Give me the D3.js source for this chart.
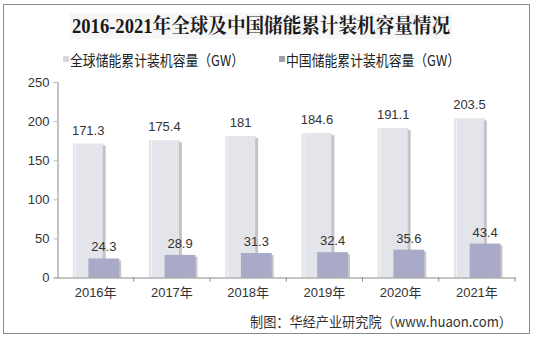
<!DOCTYPE html>
<html><head><meta charset="utf-8">
<script src="https://cdn.jsdelivr.net/npm/d3@7"></script>
<style>html,body{margin:0;padding:0;background:#fff;}svg{display:block;}</style>
</head><body>
<svg id="c" width="534" height="338"></svg>
<script>
const years = ["2016年","2017年","2018年","2019年","2020年","2021年"];
const globalVals = [171.3, 175.4, 181, 184.6, 191.1, 203.5];
const chinaVals = [24.3, 28.9, 31.3, 32.4, 35.6, 43.4];
const yTicks = [0, 50, 100, 150, 200, 250];
const seriesNames = ["全球储能累计装机容量（GW）", "中国储能累计装机容量（GW）"];
const titleText = "2016-2021年全球及中国储能累计装机容量情况";
const sourceText = "制图：华经产业研究院（www.huaon.com）";

const svg = d3.select("#c");
const font = "Arial, 'Liberation Sans', 'Noto Sans CJK SC', sans-serif";
const cjk = "'Noto Sans CJK SC', 'Liberation Sans', sans-serif";

// outer border
svg.append("rect").attr("x",3.5).attr("y",4.5).attr("width",526).attr("height",329)
  .attr("fill","#fff").attr("stroke","#8a8a8a").attr("stroke-width",1);

// title
svg.append("rect").attr("x",70).attr("y",13).attr("width",382).attr("height",26).attr("fill","#f6f6f6");
svg.append("text").attr("x",72).attr("y",33).text(titleText)
  .attr("font-family","'Liberation Serif','Noto Serif CJK SC','Noto Sans CJK SC',serif")
  .attr("font-weight","bold").attr("font-size",20).attr("fill","#1a1a1a")
  .attr("textLength",378).attr("lengthAdjust","spacingAndGlyphs");

// legend
const legX = [63, 279];
seriesNames.forEach((n,i)=>{
  svg.append("rect").attr("x",legX[i]).attr("y",56).attr("width",6).attr("height",6).attr("fill",i===0?"#d8d8dc":"#a0a0a8");
  svg.append("text").attr("x",legX[i]+7).attr("y",66).text(n)
    .attr("font-family",cjk).attr("font-size",15).attr("fill","#222")
    .attr("textLength",174).attr("lengthAdjust","spacingAndGlyphs");
});

// scales
const x = d3.scaleBand().domain(years).range([57.5, 515]).padding(0);
const y = d3.scaleLinear().domain([0, 250]).range([277.5, 82]);
const bw = x.bandwidth();
const gOff = bw*0.2, cOff = bw*0.405, barW = bw*0.405;

// bars - global (behind)
const g = svg.append("g");
g.selectAll(".gb").data(globalVals).enter().append("rect")
  .attr("x",(d,i)=>x(years[i])+gOff).attr("y",d=>y(d))
  .attr("width",barW).attr("height",d=>y(0)-y(d)).attr("fill","#e4e5ea");
g.selectAll(".gs").data(globalVals).enter().append("rect")
  .attr("x",(d,i)=>x(years[i])+gOff+barW-1).attr("y",d=>y(d)+2)
  .attr("width",3).attr("height",d=>y(0)-y(d)-2).attr("fill","#c4c4c8");
g.selectAll(".gl").data(globalVals).enter().append("rect")
  .attr("x",(d,i)=>x(years[i])+gOff+2).attr("y",d=>y(d))
  .attr("width",1).attr("height",d=>y(0)-y(d)).attr("fill","#f2f3f6");
// china bars
g.selectAll(".cs").data(chinaVals).enter().append("rect")
  .attr("x",(d,i)=>x(years[i])+cOff+barW-1).attr("y",d=>y(d)+2)
  .attr("width",3).attr("height",d=>y(0)-y(d)-2).attr("fill","#c8c8cc");
g.selectAll(".cb").data(chinaVals).enter().append("rect")
  .attr("x",(d,i)=>x(years[i])+cOff).attr("y",d=>y(d))
  .attr("width",barW).attr("height",d=>y(0)-y(d)).attr("fill","#a9aac8");

// value labels
g.selectAll(".gt").data(globalVals).enter().append("text")
  .attr("x",(d,i)=>x(years[i])+gOff+barW/2).attr("y",d=>y(d)-9)
  .attr("text-anchor","middle").attr("font-family",font).attr("font-size",13).attr("fill","#333")
  .text(d=>d);
g.selectAll(".ct").data(chinaVals).enter().append("text")
  .attr("x",(d,i)=>x(years[i])+cOff+barW/2).attr("y",d=>y(d)-7)
  .attr("text-anchor","middle").attr("font-family",font).attr("font-size",13).attr("fill","#333")
  .text(d=>d);

// y axis
const ya = svg.append("g").attr("transform","translate(57.5,0)")
  .call(d3.axisLeft(y).tickValues(yTicks).tickSize(4).tickPadding(4));
ya.select(".domain").attr("stroke","#8a8a8a");
ya.selectAll("line").attr("stroke","#bdbdbd");
ya.selectAll("text").attr("font-family",font).attr("font-size",13).attr("fill","#333");

// x axis
const xa = svg.append("g").attr("transform","translate(0,277.5)")
  .call(d3.axisBottom(x).tickSize(0).tickPadding(10));
xa.select(".domain").attr("stroke","#8a8a8a");
xa.selectAll("text").attr("font-family",font).attr("font-size",13).attr("fill","#333");
xa.selectAll(".sep").data(years).enter().append("line").attr("class","sep")
  .attr("x1",d=>x(d)+bw).attr("x2",d=>x(d)+bw).attr("y1",0).attr("y2",4).attr("stroke","#8a8a8a");

// source
svg.append("text").attr("x",250).attr("y",327).text(sourceText)
  .attr("font-family",cjk).attr("font-size",14).attr("fill","#333")
  .attr("textLength",262).attr("lengthAdjust","spacingAndGlyphs");
</script>
</body></html>
